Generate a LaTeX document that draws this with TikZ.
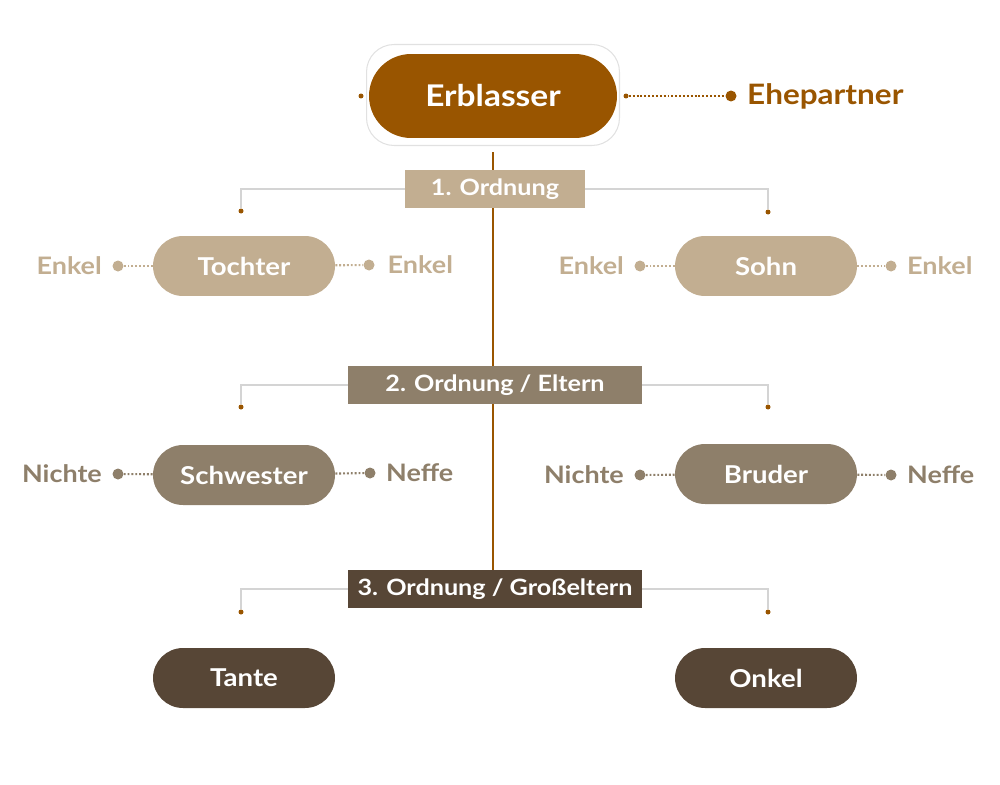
\documentclass[tikz,border=0pt]{standalone}
\usepackage{fontspec}
\setmainfont{Lato}[FakeStretch=1.12]
\usepackage{tikz}
\usetikzlibrary{positioning}
\definecolor{erbbrown}{RGB}{153,85,0}
\definecolor{kintan}{RGB}{194,174,145}
\definecolor{kinmid}{RGB}{142,127,106}
\definecolor{kindark}{RGB}{87,70,54}
\definecolor{linegray}{RGB}{212,212,212}
\definecolor{halogray}{RGB}{225,225,225}

\begin{document}
\begin{tikzpicture}[x=0.02cm, y=-0.02cm,
  pill/.style={rectangle, fill=#1, rounded corners=0.6cm, minimum width=3.64cm,
               minimum height=1.2cm, text=white, font=\fontsize{14}{16}\selectfont\bfseries},
  ord/.style={rectangle, fill=#1, minimum height=0.76cm, inner sep=0pt,
              text=white, font=\fontsize{12.8}{15}\selectfont\bfseries},
  bigdot/.style={circle, fill=#1, inner sep=0pt, minimum size=0.22cm},
  tip/.style={circle, fill=erbbrown, inner sep=0pt, minimum size=0.1cm},
  kin/.style={text=#1, inner sep=0pt, font=\fontsize{13.7}{16}\selectfont\bfseries},
  dots/.style={draw=#1, line width=1.2pt, dash pattern=on 1.1pt off 1.1pt},
  bracket/.style={draw=linegray, line width=1.1pt},
  trunk/.style={draw=erbbrown, line width=1.2pt},
]
  \useasboundingbox (0,0) rectangle (1000,784);

  % Erblasser
  \node[rectangle, draw=halogray, line width=0.6pt, rounded corners=0.55cm,
        minimum width=5.06cm, minimum height=2.02cm] (halo) at (493,95) {};
  \node[rectangle, fill=erbbrown, rounded corners=0.84cm, minimum width=4.96cm,
        minimum height=1.68cm, text=white, font=\fontsize{17}{19}\selectfont\bfseries]
        (erb) at (493,96) {Erblasser};
  \node[tip] (erbl) at (361,96) {};
  \node[tip] (erbr) at (626,96) {};
  \node[bigdot=erbbrown] (ehedot) at (731,96) {};
  \node[kin=erbbrown, font=\fontsize{16}{18}\selectfont\bfseries, right=0.2cm of ehedot]
        (ehe) {Ehepartner};
  \draw[dots=erbbrown] (erbr) -- (ehedot);

  % Stamm
  \coordinate (stem) at (493,152);
  \coordinate (stemend) at (493,571);
  \draw[trunk] (stem) -- (stemend);

  % Ordnungen
  \node[ord=kintan, minimum width=3.6cm] (o1) at (495,189) {1. Ordnung};
  \node[ord=kinmid, minimum width=5.88cm] (o2) at (495,385) {2. Ordnung / Eltern};
  \node[ord=kindark, minimum width=5.88cm] (o3) at (495,589) {3. Ordnung / Großeltern};

  \node[tip] (b1l) at (241,211) {};
  \node[tip] (b1r) at (768,212) {};
  \node[tip] (b2l) at (241,407) {};
  \node[tip] (b2r) at (768,407) {};
  \node[tip] (b3l) at (241,612) {};
  \node[tip] (b3r) at (768,612) {};
  \draw[bracket] (o1.west) -| (b1l);
  \draw[bracket] (o1.east) -| (b1r);
  \draw[bracket] (o2.west) -| (b2l);
  \draw[bracket] (o2.east) -| (b2r);
  \draw[bracket] (o3.west) -| (b3l);
  \draw[bracket] (o3.east) -| (b3r);

  % 1. Ordnung
  \node[pill=kintan] (toch) at (244,266) {Tochter};
  \node[pill=kintan] (sohn) at (766,266) {Sohn};
  \node[bigdot=kintan] (tochl) at (118,266) {};
  \node[bigdot=kintan] (tochr) at (369,265) {};
  \node[bigdot=kintan] (sohnl) at (640,266) {};
  \node[bigdot=kintan] (sohnr) at (891,266) {};
  \node[kin=kintan, left=0.2cm of tochl] {Enkel};
  \node[kin=kintan, right=0.25cm of tochr] {Enkel};
  \node[kin=kintan, left=0.2cm of sohnl] {Enkel};
  \node[kin=kintan, right=0.2cm of sohnr] {Enkel};
  \draw[dots=kintan] (toch) -- (tochl);
  \draw[dots=kintan] (toch) -- (tochr);
  \draw[dots=kintan] (sohn) -- (sohnl);
  \draw[dots=kintan] (sohn) -- (sohnr);

  % 2. Ordnung
  \node[pill=kinmid] (schw) at (244,475) {Schwester};
  \node[pill=kinmid] (brud) at (766,474) {Bruder};
  \node[bigdot=kinmid] (schwl) at (118,474) {};
  \node[bigdot=kinmid] (schwr) at (370,473) {};
  \node[bigdot=kinmid] (brudl) at (640,475) {};
  \node[bigdot=kinmid] (brudr) at (891,475) {};
  \node[kin=kinmid, left=0.2cm of schwl] {Nichte};
  \node[kin=kinmid, right=0.2cm of schwr] {Neffe};
  \node[kin=kinmid, left=0.2cm of brudl] {Nichte};
  \node[kin=kinmid, right=0.2cm of brudr] {Neffe};
  \draw[dots=kinmid] (schw) -- (schwl);
  \draw[dots=kinmid] (schw) -- (schwr);
  \draw[dots=kinmid] (brud) -- (brudl);
  \draw[dots=kinmid] (brud) -- (brudr);

  % 3. Ordnung
  \node[pill=kindark] (tante) at (244,678) {Tante};
  \node[pill=kindark] (onkel) at (766,678) {Onkel};
\end{tikzpicture}
\end{document}
